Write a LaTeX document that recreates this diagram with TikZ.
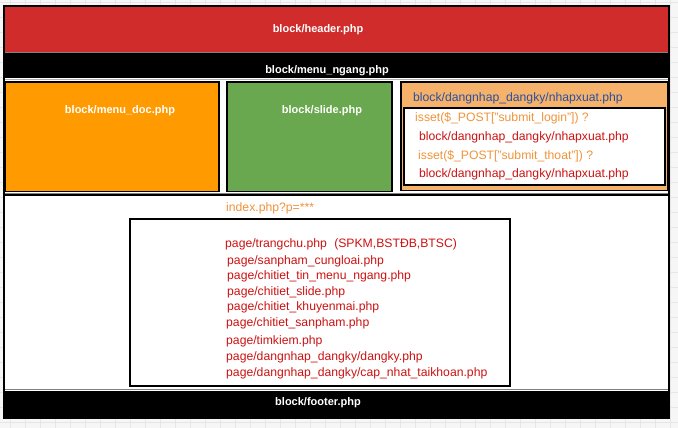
\documentclass[tikz,border=0pt]{standalone}
\usepackage{fontspec}
\setmainfont{Liberation Sans}
\definecolor{bggray}{RGB}{246,246,246}
\definecolor{gridc}{RGB}{230,230,230}
\definecolor{hdrred}{RGB}{209,44,44}
\definecolor{orangebox}{RGB}{255,154,0}
\definecolor{greenbox}{RGB}{106,168,79}
\definecolor{peachbox}{RGB}{246,178,107}
\definecolor{bluetxt}{RGB}{40,80,160}
\definecolor{orangetxt}{RGB}{240,148,58}
\definecolor{redtxt}{RGB}{204,18,18}
\tikzset{
  wlabel/.style={text=white, font=\fontsize{11}{13}\selectfont\bfseries, inner sep=0pt},
  ctext/.style={anchor=west, font=\fontsize{12.2}{14}\selectfont, inner sep=0pt},
  boxline/.style={draw=black, line width=1.6pt},
}
\begin{document}
\begin{tikzpicture}[x=1pt,y=-1pt]
\useasboundingbox (0,0) rectangle (678,428);
\fill[bggray] (0,0) rectangle (678,428);
\foreach \x in {10,25,...,678} \draw[gridc, line width=0.8pt] (\x,0) -- (\x,428);
\foreach \y in {2,17,...,428} \draw[gridc, line width=0.8pt] (0,\y) -- (678,\y);
% outer frame
\draw[line width=2pt, fill=white] (4,6) rectangle (669,418);
% header
\fill[hdrred] (5,7) rectangle (668,52);
\draw[gray, line width=1pt] (5,52.5) -- (668,52.5);
% menu ngang
\fill[black] (5,53) rectangle (668,78.5);
\draw[gray!60, line width=1pt] (5,80) -- (668,80);
% row boxes
\draw[boxline, fill=orangebox] (5,82) rectangle (219,191.5);
\draw[boxline, fill=greenbox] (227,82) rectangle (392,191.5);
\draw[boxline, fill=peachbox] (401,82) rectangle (668,190.5);
\draw[line width=1.2pt, fill=white] (404,108) rectangle (665,185);
\draw[gray, line width=1pt] (5,193) -- (668,193);
\draw[line width=2pt] (5,195) -- (668,195);
% page box
\draw[line width=1.5pt] (130,219) rectangle (510,386);
% footer
\draw[gray, line width=1pt] (5,389.5) -- (668,389.5);
\fill[black] (5,390.5) rectangle (668,417);

% labels
\node[wlabel] (hdr) at (318,30) {block/header.php};
\node[wlabel] (mng) at (327,71) {block/menu\_ngang.php};
\node[wlabel] (mdoc) at (120,111) {block/menu\_doc.php};
\node[wlabel] (sld) at (322,111) {block/slide.php};
\node[wlabel] (ftr) at (318,403) {block/footer.php};

\node[ctext, text=bluetxt] (dnt) at (413,98) {block/dangnhap\_dangky/nhapxuat.php};
\node[ctext, text=orangetxt] (isl) at (415,118) {isset(\$\_POST["submit\_login"]) ?};
\node[ctext, text=redtxt] (nx1) at (419,137) {block/dangnhap\_dangky/nhapxuat.php};
\node[ctext, text=orangetxt] (ist) at (418,156) {isset(\$\_POST["submit\_thoat"]) ?};
\node[ctext, text=redtxt] (nx2) at (419,174) {block/dangnhap\_dangky/nhapxuat.php};

\node[ctext, text=orangetxt] (idx) at (226,208) {index.php?p=***};
\node[ctext, text=redtxt] (p1) at (225,244) {page/trangchu.php\hspace{0.6em}(SPKM,BSTĐB,BTSC)};
\node[ctext, text=redtxt] (p2) at (227,261) {page/sanpham\_cungloai.php};
\node[ctext, text=redtxt] (p3) at (227,276) {page/chitiet\_tin\_menu\_ngang.php};
\node[ctext, text=redtxt] (p4) at (227,292) {page/chitiet\_slide.php};
\node[ctext, text=redtxt] (p5) at (227,307) {page/chitiet\_khuyenmai.php};
\node[ctext, text=redtxt] (p6) at (226,323) {page/chitiet\_sanpham.php};
\node[ctext, text=redtxt] (p7) at (226,341) {page/timkiem.php};
\node[ctext, text=redtxt] (p8) at (226,357) {page/dangnhap\_dangky/dangky.php};
\node[ctext, text=redtxt] (p9) at (226,373) {page/dangnhap\_dangky/cap\_nhat\_taikhoan.php};
\end{tikzpicture}
\end{document}
